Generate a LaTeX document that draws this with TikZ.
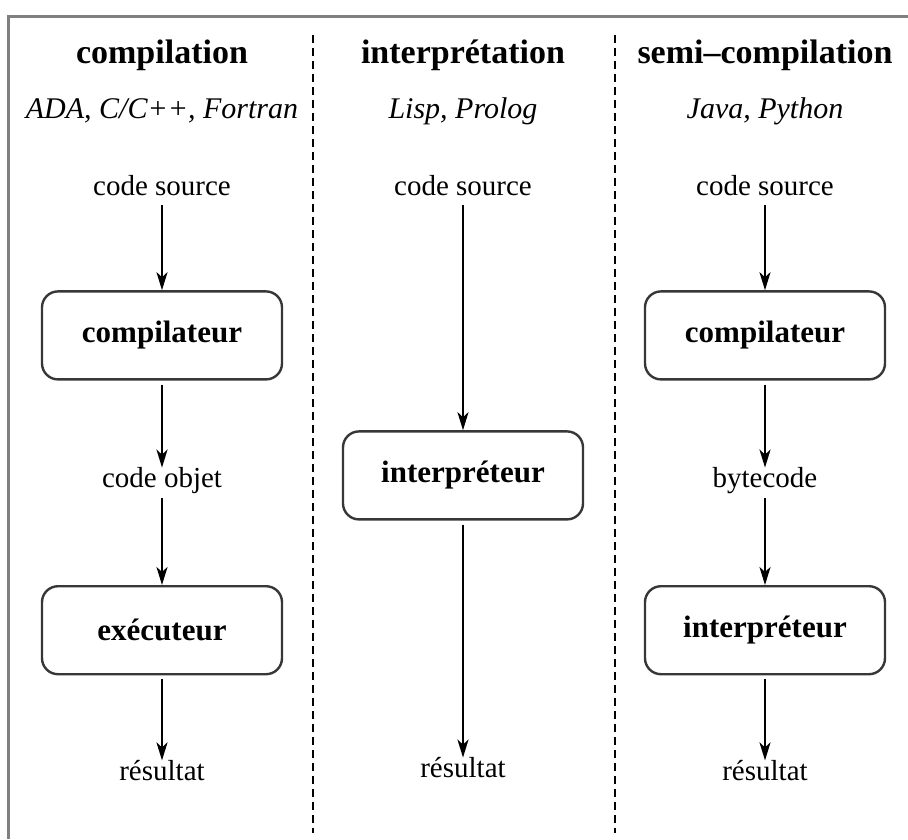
\documentclass[tikz,border=0pt]{standalone}
\usepackage{fontspec}
\setmainfont{Liberation Serif}
\usetikzlibrary{arrows.meta, positioning}
\definecolor{framegray}{RGB}{128, 128, 128}
\definecolor{boxline}{RGB}{55, 55, 55}

\begin{document}
\begin{tikzpicture}[
            x=1pt, y=1pt,
            head/.style={font=\fontsize{34}{40}\selectfont\bfseries, inner sep=0pt},
            lang/.style={font=\fontsize{30}{36}\selectfont\itshape, inner sep=0pt},
            txt/.style={font=\fontsize{29}{34}\selectfont, inner sep=0pt, text height=20pt, text depth=6pt},
            box/.style={draw=boxline, line width=2.4pt, rounded corners=16pt, minimum width=240pt, minimum height=88pt, inner sep=0pt, font=\fontsize{31}{36}\selectfont\bfseries},
            arrow/.style={-{Stealth[length=18pt, width=11pt, inset=5pt]}, line width=2.4pt, black, shorten <=4pt},
            sep/.style={dash pattern=on 8pt off 5pt, line width=2pt, black}
        ]
            \useasboundingbox (0,0) rectangle (908,-839);
            \draw[framegray, line width=3pt] (908,-16) -| (8,-839);
            \draw[sep] (313,-35) -- (313,-833);
            \draw[sep] (615,-35) -- (615,-833);

            % compilation
            \node[head] (hcomp) at (162,-55) {compilation};
            \node[lang] (lcomp) at (162,-111) {ADA, C/C++, Fortran};
            \node[txt] (srccomp) at (162,-188) {code source};
            \node[box, below=89pt of srccomp] (compil) {compilateur};
            \node[txt, below=87pt of compil] (objet) {code objet};
            \node[box, below=91pt of objet] (exec) {exécuteur};
            \node[txt, below=85pt of exec] (rescomp) {résultat};

            % interpretation
            \node[head] (hinterp) at (463,-55) {interprétation};
            \node[lang] (linterp) at (463,-111) {Lisp, Prolog};
            \node[txt] (srcinterp) at (463,-188) {code source};
            \node[box, below=229pt of srcinterp] (interp) {interpréteur};
            \node[txt, below=237pt of interp] (resinterp) {résultat};

            % semi-compilation
            \node[head] (hsemi) at (765,-55) {semi--compilation};
            \node[lang] (lsemi) at (765,-111) {Java, Python};
            \node[txt] (srcsemi) at (765,-188) {code source};
            \node[box, below=89pt of srcsemi] (compilsemi) {compilateur};
            \node[txt, below=87pt of compilsemi] (bytecode) {bytecode};
            \node[box, below=91pt of bytecode] (interpsemi) {interpréteur};
            \node[txt, below=85pt of interpsemi] (ressemi) {résultat};

            \draw[arrow] (srccomp) -- (compil);
            \draw[arrow] (compil) -- (objet);
            \draw[arrow] (objet) -- (exec);
            \draw[arrow] (exec) -- (rescomp);

            \draw[arrow] (srcinterp) -- (interp);
            \draw[arrow] (interp) -- (resinterp);

            \draw[arrow] (srcsemi) -- (compilsemi);
            \draw[arrow] (compilsemi) -- (bytecode);
            \draw[arrow] (bytecode) -- (interpsemi);
            \draw[arrow] (interpsemi) -- (ressemi);
        \end{tikzpicture}
\end{document}
